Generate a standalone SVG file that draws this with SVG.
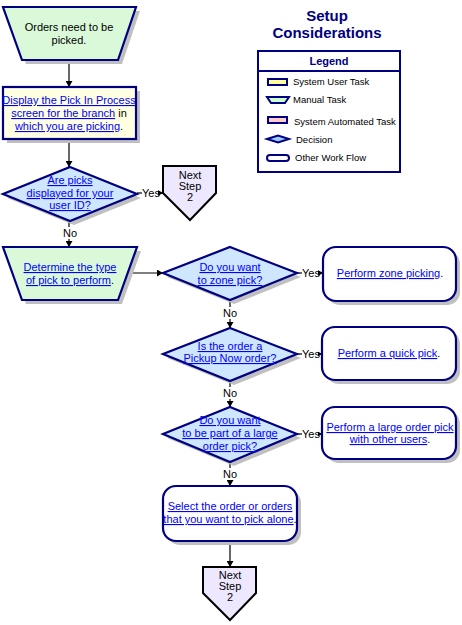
<svg xmlns="http://www.w3.org/2000/svg" width="462" height="625" viewBox="0 0 462 625">
<style>
text{font-family:"Liberation Sans",Arial,sans-serif;font-size:11px;fill:#000}
.c{text-anchor:middle}
.l{fill:#0000ff;text-decoration:underline}
.n{stroke:#000080;stroke-width:2.2}
.sh{fill:#c0c0c0}
.man{fill:#d9f9d9}
.usr{fill:#ffffe1}
.dec{fill:#cfe6ff}
.oth{fill:#fff}
.nx{fill:#eee8ff;stroke:#000;stroke-width:2}
.cn{stroke:#000;stroke-width:1.2;fill:none}
.bg{fill:#fff}
.lg{font-size:9.5px}
.t{font-weight:bold;font-size:15px;fill:#000080}
</style>
<defs>
<marker id="ah" markerWidth="7" markerHeight="7" refX="6" refY="3.5" orient="auto" markerUnits="userSpaceOnUse">
<path d="M0,0 L6,3.5 L0,7 z" fill="#000"/>
</marker>
</defs>

<g id="title">
<text class="t c" x="327" y="21">Setup</text>
<text class="t c" x="327" y="38">Considerations</text>
</g>

<g id="legend">
<rect x="258" y="51" width="142" height="121" fill="#fff" stroke="#000080" stroke-width="2"/>
<line x1="258" y1="71" x2="400" y2="71" stroke="#000080" stroke-width="2"/>
<text class="c" x="329" y="65" style="font-weight:bold;fill:#000080;font-size:11px">Legend</text>
<rect x="268" y="79" width="19" height="6" fill="#ffff99" stroke="#000080" stroke-width="2"/>
<text class="lg" x="293" y="85">System User Task</text>
<path d="M267,97 L289,97 L285,103 L271,103 z" fill="#ccffcc" stroke="#000080" stroke-width="2"/>
<text class="lg" x="293" y="103">Manual Task</text>
<rect x="268" y="117" width="19" height="6" fill="#ffcccc" stroke="#000080" stroke-width="2"/>
<text class="lg" x="294" y="125">System Automated Task</text>
<path d="M267,139 L278,135.5 L289,139 L278,142.5 z" fill="#99ccff" stroke="#000080" stroke-width="2"/>
<text class="lg" x="296" y="143">Decision</text>
<rect x="267" y="155" width="22" height="6" rx="3" fill="#fff" stroke="#000080" stroke-width="2"/>
<text class="lg" x="295" y="161">Other Work Flow</text>
</g>

<g id="connectors">
<line class="cn" x1="69" y1="60" x2="69" y2="87" marker-end="url(#ah)"/>
<line class="cn" x1="69" y1="139" x2="69" y2="167" marker-end="url(#ah)"/>
<line class="cn" x1="137" y1="193" x2="163" y2="193" marker-end="url(#ah)"/>
<rect class="bg" x="142" y="187" width="16" height="12"/>
<text x="142" y="197">Yes</text>
<line class="cn" x1="69" y1="221" x2="69" y2="247" marker-end="url(#ah)"/>
<rect class="bg" x="62" y="227" width="16" height="12"/>
<text class="c" x="70" y="237">No</text>
<line class="cn" x1="128" y1="273" x2="163" y2="273" marker-end="url(#ah)"/>
<line class="cn" x1="297" y1="273" x2="323" y2="273" marker-end="url(#ah)"/>
<rect class="bg" x="302" y="267" width="16" height="12"/>
<text x="302" y="277">Yes</text>
<line class="cn" x1="230" y1="300" x2="230" y2="328" marker-end="url(#ah)"/>
<rect class="bg" x="222" y="307" width="16" height="12"/>
<text class="c" x="230" y="317">No</text>
<line class="cn" x1="297" y1="354" x2="322" y2="354" marker-end="url(#ah)"/>
<rect class="bg" x="302" y="348" width="16" height="12"/>
<text x="302" y="358">Yes</text>
<line class="cn" x1="230" y1="381" x2="230" y2="407" marker-end="url(#ah)"/>
<rect class="bg" x="222" y="387" width="16" height="12"/>
<text class="c" x="230" y="397">No</text>
<line class="cn" x1="297" y1="434" x2="322" y2="434" marker-end="url(#ah)"/>
<rect class="bg" x="302" y="428" width="16" height="12"/>
<text x="302" y="438">Yes</text>
<line class="cn" x1="230" y1="462" x2="230" y2="486" marker-end="url(#ah)"/>
<rect class="bg" x="222" y="468" width="16" height="12"/>
<text class="c" x="230" y="478">No</text>
<line class="cn" x1="230" y1="541" x2="230" y2="567" marker-end="url(#ah)"/>
</g>

<g id="n1">
<path class="sh" d="M7,11 L140,11 L122,64 L26,64 z"/>
<path class="n man" d="M3,7 L136,7 L118,60 L22,60 z"/>
<text class="c" x="69" y="31">Orders need to be</text>
<text class="c" x="69" y="44">picked.</text>
</g>

<g id="n2">
<rect class="sh" x="7" y="91" width="133" height="52"/>
<rect class="n usr" x="3" y="87" width="133" height="52"/>
<text class="c" x="69" y="104"><tspan class="l">Display the Pick In Process</tspan></text>
<text class="c" x="69" y="117"><tspan class="l">screen for the branch</tspan> in</text>
<text class="c" x="69" y="130"><tspan class="l">which you are picking</tspan>.</text>
</g>

<g id="d1">
<path class="sh" d="M74,171 L141,198 L74,225 L7,198 z"/>
<path class="n dec" d="M70,167 L137,194 L70,221 L3,194 z"/>
<text class="c" x="70" y="184"><tspan class="l">Are picks</tspan></text>
<text class="c" x="70" y="197"><tspan class="l">displayed for your</tspan></text>
<text class="c" x="70" y="209"><tspan class="l">user ID?</tspan></text>
</g>

<g id="next1">
<path class="nx" d="M163,166 L216,166 L216,193 L190,220 L163,193 z"/>
<text class="c" x="190" y="179">Next</text>
<text class="c" x="190" y="190">Step</text>
<text class="c" x="190" y="201">2</text>
</g>

<g id="n3">
<path class="sh" d="M7,251 L141,251 L122,304 L26,304 z"/>
<path class="n man" d="M3,247 L137,247 L118,300 L22,300 z"/>
<text class="c" x="70" y="271"><tspan class="l">Determine the type</tspan></text>
<text class="c" x="70" y="284"><tspan class="l">of pick to perform</tspan>.</text>
</g>

<g id="d2">
<path class="sh" d="M234,251 L301,277 L234,304 L167,277 z"/>
<path class="n dec" d="M230,247 L297,273 L230,300 L163,273 z"/>
<text class="c" x="230" y="271"><tspan class="l">Do you want</tspan></text>
<text class="c" x="230" y="284"><tspan class="l">to zone pick?</tspan></text>
</g>

<g id="r1">
<rect class="sh" x="327" y="251" width="133" height="54" rx="13"/>
<rect class="n oth" x="323" y="247" width="133" height="54" rx="13"/>
<text class="c" x="390" y="277"><tspan class="l">Perform zone picking</tspan>.</text>
</g>

<g id="d3">
<path class="sh" d="M234,332 L301,358 L234,385 L167,358 z"/>
<path class="n dec" d="M230,328 L297,354 L230,381 L163,354 z"/>
<text class="c" x="230" y="350"><tspan class="l">Is the order a</tspan></text>
<text class="c" x="230" y="362"><tspan class="l">Pickup Now order?</tspan></text>
</g>

<g id="r2">
<rect class="sh" x="326" y="331" width="134" height="53" rx="13"/>
<rect class="n oth" x="322" y="327" width="134" height="53" rx="13"/>
<text class="c" x="389" y="357"><tspan class="l">Perform a quick pick</tspan>.</text>
</g>

<g id="d4">
<path class="sh" d="M234,411 L301,438 L234,466 L167,438 z"/>
<path class="n dec" d="M230,407 L297,434 L230,462 L163,434 z"/>
<text class="c" x="230" y="424"><tspan class="l">Do you want</tspan></text>
<text class="c" x="230" y="437"><tspan class="l">to be part of a large</tspan></text>
<text class="c" x="230" y="450"><tspan class="l">order pick?</tspan></text>
</g>

<g id="r3">
<rect class="sh" x="326" y="411" width="134" height="52" rx="13"/>
<rect class="n oth" x="322" y="407" width="134" height="52" rx="13"/>
<text class="c" x="390" y="431"><tspan class="l">Perform a large order pick</tspan></text>
<text class="c" x="390" y="443"><tspan class="l">with other users</tspan>.</text>
</g>

<g id="r4">
<rect class="sh" x="167" y="490" width="134" height="55" rx="13"/>
<rect class="n oth" x="163" y="486" width="134" height="55" rx="13"/>
<text class="c" x="230" y="510"><tspan class="l">Select the order or orders</tspan></text>
<text class="c" x="230" y="523"><tspan class="l">that you want to pick alone</tspan>.</text>
</g>

<g id="next2">
<path class="nx" d="M203,567 L256,567 L256,593 L230,620 L203,593 z"/>
<text class="c" x="230" y="579">Next</text>
<text class="c" x="230" y="590">Step</text>
<text class="c" x="230" y="601">2</text>
</g>
</svg>
